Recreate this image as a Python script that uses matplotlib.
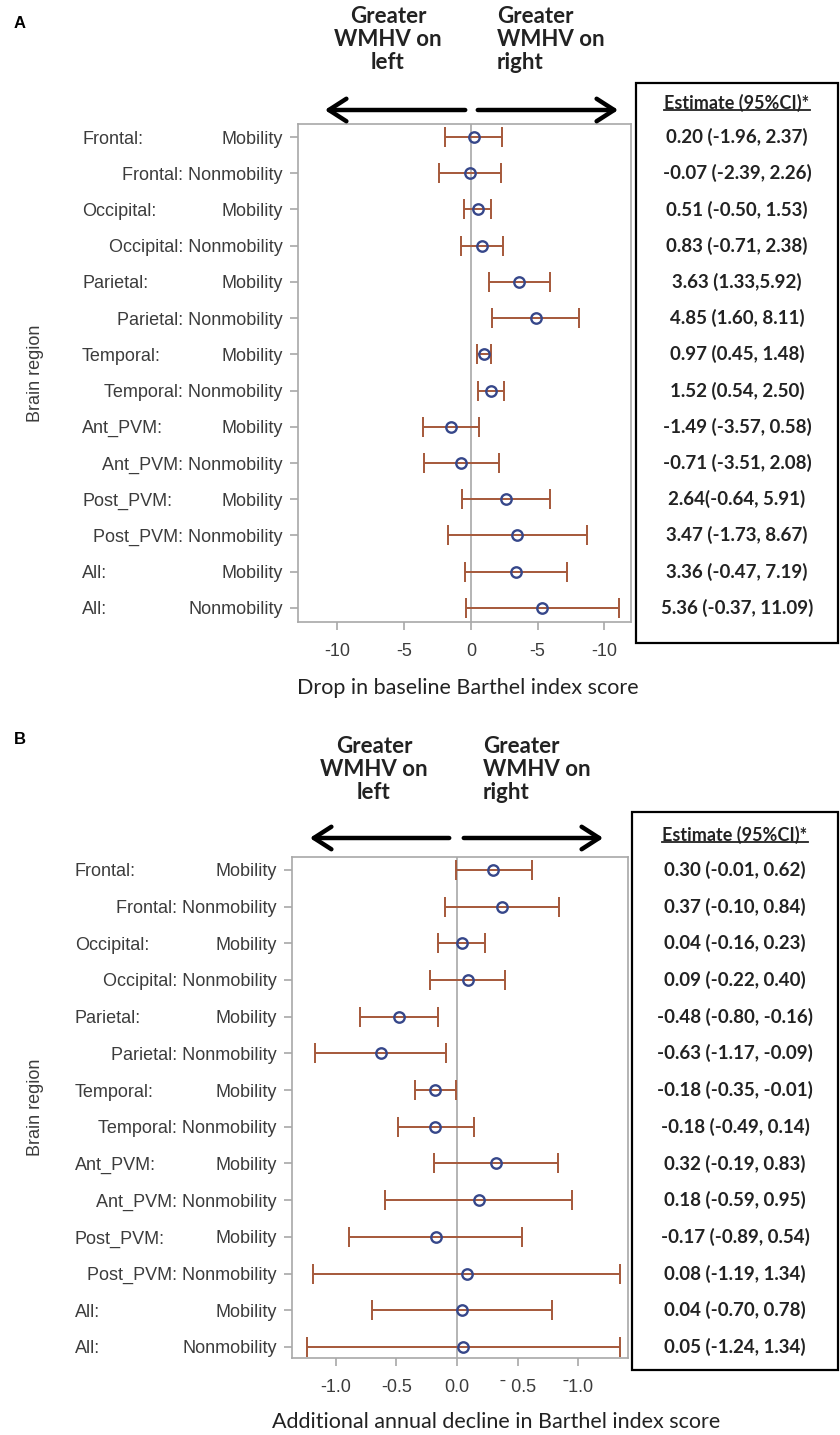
# -*- coding: utf-8 -*-
import matplotlib
matplotlib.use('Agg')
import matplotlib.pyplot as plt
from matplotlib import transforms
from matplotlib.patches import Rectangle, FancyArrowPatch
from matplotlib.lines import Line2D

# Row labels ("\t" splits region column and right-aligned suffix)
rowLabels = ["Frontal:\tMobility", "Frontal: Nonmobility",
             "Occipital:\tMobility", "Occipital: Nonmobility",
             "Parietal:\tMobility", "Parietal: Nonmobility",
             "Temporal:\tMobility", "Temporal: Nonmobility",
             "Ant_PVM:\tMobility", "Ant_PVM: Nonmobility",
             "Post_PVM:\tMobility", "Post_PVM: Nonmobility",
             "All:\tMobility", "All:\tNonmobility"]

# Panel A: drop in baseline Barthel index score
estA = [0.20, -0.07, 0.51, 0.83, 3.63, 4.85, 0.97, 1.52, -1.49, -0.71, 2.64, 3.47, 3.36, 5.36]
lowA = [-1.96, -2.39, -0.50, -0.71, 1.33, 1.60, 0.45, 0.54, -3.57, -3.51, -0.64, -1.73, -0.47, -0.37]
highA = [2.37, 2.26, 1.53, 2.38, 5.92, 8.11, 1.48, 2.50, 0.58, 2.08, 5.91, 8.67, 7.19, 11.09]
textA = ["0.20 (-1.96, 2.37)", "-0.07 (-2.39, 2.26)", "0.51 (-0.50, 1.53)", "0.83 (-0.71, 2.38)",
         "3.63 (1.33,5.92)", "4.85 (1.60, 8.11)", "0.97 (0.45, 1.48)", "1.52 (0.54, 2.50)",
         "-1.49 (-3.57, 0.58)", "-0.71 (-3.51, 2.08)", "2.64(-0.64, 5.91)", "3.47 (-1.73, 8.67)",
         "3.36 (-0.47, 7.19)", "5.36 (-0.37, 11.09)"]
ticksA = [-10, -5, 0, 5, 10]
tickLabelsA = ["-10", "-5", "0", "-5", "-10"]

# Panel B: additional annual decline in Barthel index score
estB = [0.30, 0.37, 0.04, 0.09, -0.48, -0.63, -0.18, -0.18, 0.32, 0.18, -0.17, 0.08, 0.04, 0.05]
lowB = [-0.01, -0.10, -0.16, -0.22, -0.80, -1.17, -0.35, -0.49, -0.19, -0.59, -0.89, -1.19, -0.70, -1.24]
highB = [0.62, 0.84, 0.23, 0.40, -0.16, -0.09, -0.01, 0.14, 0.83, 0.95, 0.54, 1.34, 0.78, 1.34]
textB = ["0.30 (-0.01, 0.62)", "0.37 (-0.10, 0.84)", "0.04 (-0.16, 0.23)", "0.09 (-0.22, 0.40)",
         "-0.48 (-0.80, -0.16)", "-0.63 (-1.17, -0.09)", "-0.18 (-0.35, -0.01)", "-0.18 (-0.49, 0.14)",
         "0.32 (-0.19, 0.83)", "0.18 (-0.59, 0.95)", "-0.17 (-0.89, 0.54)", "0.08 (-1.19, 1.34)",
         "0.04 (-0.70, 0.78)", "0.05 (-1.24, 1.34)"]
ticksB = [-1.0, -0.5, 0.0, 0.5, 1.0]
tickLabelsB = ["-1.0", "-0.5", "0.0", "\u02c9 0.5", "\u02c91.0"]

W, H = 840, 1435
ARIAL = ['Liberation Sans', 'DejaVu Sans']
CALIBRI = ['Lato', 'DejaVu Sans']
BAR_COLOR = '#a5583a'
DOT_COLOR = '#36478a'
GRID_GRAY = '#a8a8a8'
LABEL_GRAY = '#3c3c3c'

fig = plt.figure(figsize=(W / 100, H / 100), dpi=100)


def fx(px):
    return px / W


def fy(py):
    return 1 - py / H


def drawPanel(letter, est, low, high, texts, ticks, tickLabels, xlim, xlabel, cfg):
    left, top, right, bottom = cfg['axes']
    ax = fig.add_axes([fx(left), fy(bottom), (right - left) / W, (bottom - top) / H])
    rows = list(range(len(est)))

    # zero reference line
    ax.axvline(0, color=GRID_GRAY, lw=1.2, zorder=1)

    # CI bars and point estimates (open circles, bar shows through)
    errLow = [e - l for e, l in zip(est, low)]
    errHigh = [h - e for e, h in zip(est, high)]
    ax.errorbar(est, rows, xerr=[errLow, errHigh], fmt='none', ecolor=BAR_COLOR,
                elinewidth=1.4, capsize=7, capthick=1.4, zorder=2)
    ax.plot(est, rows, 'o', ms=7.5, mfc='none', mec=DOT_COLOR, mew=1.7, zorder=3)

    ax.set_xlim(*xlim)
    ax.set_ylim(cfg['ylim'])
    ax.set_xticks(ticks)
    ax.set_xticklabels(tickLabels, family=ARIAL, fontsize=13, color=LABEL_GRAY)
    ax.set_yticks(rows)
    ax.set_yticklabels([lbl.split('\t')[-1] for lbl in rowLabels], family=ARIAL,
                       fontsize=13, color=LABEL_GRAY)
    ax.tick_params(axis='both', color=GRID_GRAY, length=6, width=1.2)
    ax.tick_params(axis='y', pad=5)
    ax.tick_params(axis='x', pad=9)
    for sp in ax.spines.values():
        sp.set_color(GRID_GRAY)
        sp.set_linewidth(1.2)

    # region column for split labels
    blend = transforms.blended_transform_factory(fig.transFigure, ax.transData)
    for r, lbl in enumerate(rowLabels):
        if '\t' in lbl:
            ax.text(fx(cfg['regionX']), r, lbl.split('\t')[0], transform=blend, ha='left',
                    va='center_baseline', family=ARIAL, fontsize=13, color=LABEL_GRAY)

    # y label
    fig.text(fx(35), fy((top + bottom) / 2), 'Brain region', rotation=90, ha='center',
             va='center', family=ARIAL, fontsize=13, color=LABEL_GRAY)

    # x label
    fig.text(fx(cfg['xlabelX']), fy(cfg['xlabelY']), xlabel, ha='center', va='center',
             family=CALIBRI, fontsize=15.5, color='#222222')

    # panel letter
    fig.text(fx(14), fy(cfg['letterY']), letter, ha='left', va='center', family=ARIAL,
             fontsize=12, fontweight='bold')

    # direction headers and arrows
    fig.text(fx(cfg['leftHeadX']), fy(cfg['headY']), 'Greater\nWMHV on\nleft', ha='center',
             va='top', family=CALIBRI, fontsize=16, fontweight='bold', color='#222222',
             linespacing=1.12)
    fig.text(fx(cfg['rightHeadX']), fy(cfg['headY']), 'Greater\nWMHV on\nright', ha='left',
             va='top', family=CALIBRI, fontsize=16, fontweight='bold', color='#222222',
             linespacing=1.12)
    ay = fy(cfg['arrowY'])
    for x0, x1 in cfg['arrows']:
        fig.patches.append(FancyArrowPatch((fx(x0), ay), (fx(x1), ay), transform=fig.transFigure,
                                           arrowstyle='->,head_length=0.7,head_width=0.45',
                                           mutation_scale=18, lw=3.2, color='black'))

    # estimate table box
    bx0, by0, bx1, by1 = cfg['box']
    fig.patches.append(Rectangle((fx(bx0), fy(by1)), (bx1 - bx0) / W, (by1 - by0) / H,
                                 transform=fig.transFigure, fill=False, ec='black', lw=1.6))
    cx = fx((bx0 + bx1) / 2)
    head = ax.text(cx, -0.95, 'Estimate (95%CI)*', transform=blend, ha='center', va='center',
                   family=CALIBRI, fontsize=13, fontweight='bold', color='#222222')
    for r, t in enumerate(texts):
        ax.text(cx, r, t, transform=blend, ha='center', va='center', family=CALIBRI,
                fontsize=13.5, fontweight='bold', color='#222222')
    return head


headA = drawPanel('A', estA, lowA, highA, textA, ticksA, tickLabelsA, (-12.95, 12.0),
                  'Drop in baseline Barthel index score',
                  dict(axes=(298, 124, 631, 622), ylim=(13.39, -0.36), regionX=82,
                       xlabelX=468, xlabelY=688, letterY=23, leftHeadX=388, rightHeadX=497,
                       headY=6, arrowY=110, arrows=[(468, 322), (475, 621)],
                       box=(636, 83, 838, 643)))
headB = drawPanel('B', estB, lowB, highB, textB, ticksB, tickLabelsB, (-1.36, 1.41),
                  'Additional annual decline in Barthel index score',
                  dict(axes=(292, 857, 628, 1358), ylim=(13.3, -0.35), regionX=75,
                       xlabelX=496, xlabelY=1422, letterY=740, leftHeadX=374, rightHeadX=483,
                       headY=736, arrowY=838, arrows=[(452, 307), (461, 606)],
                       box=(632, 812, 838, 1370)))

# underline the table headers
fig.canvas.draw()
inv = fig.transFigure.inverted()
for h in (headA, headB):
    bb = h.get_window_extent()
    (x0, y0), (x1, y1) = inv.transform([(bb.x0, bb.y0), (bb.x1, bb.y1)])
    fig.lines.append(Line2D([x0, x1], [y0 + 0.0012, y0 + 0.0012], transform=fig.transFigure,
                            color='#222222', lw=1.3))

fig.savefig('out.png', dpi=100)
